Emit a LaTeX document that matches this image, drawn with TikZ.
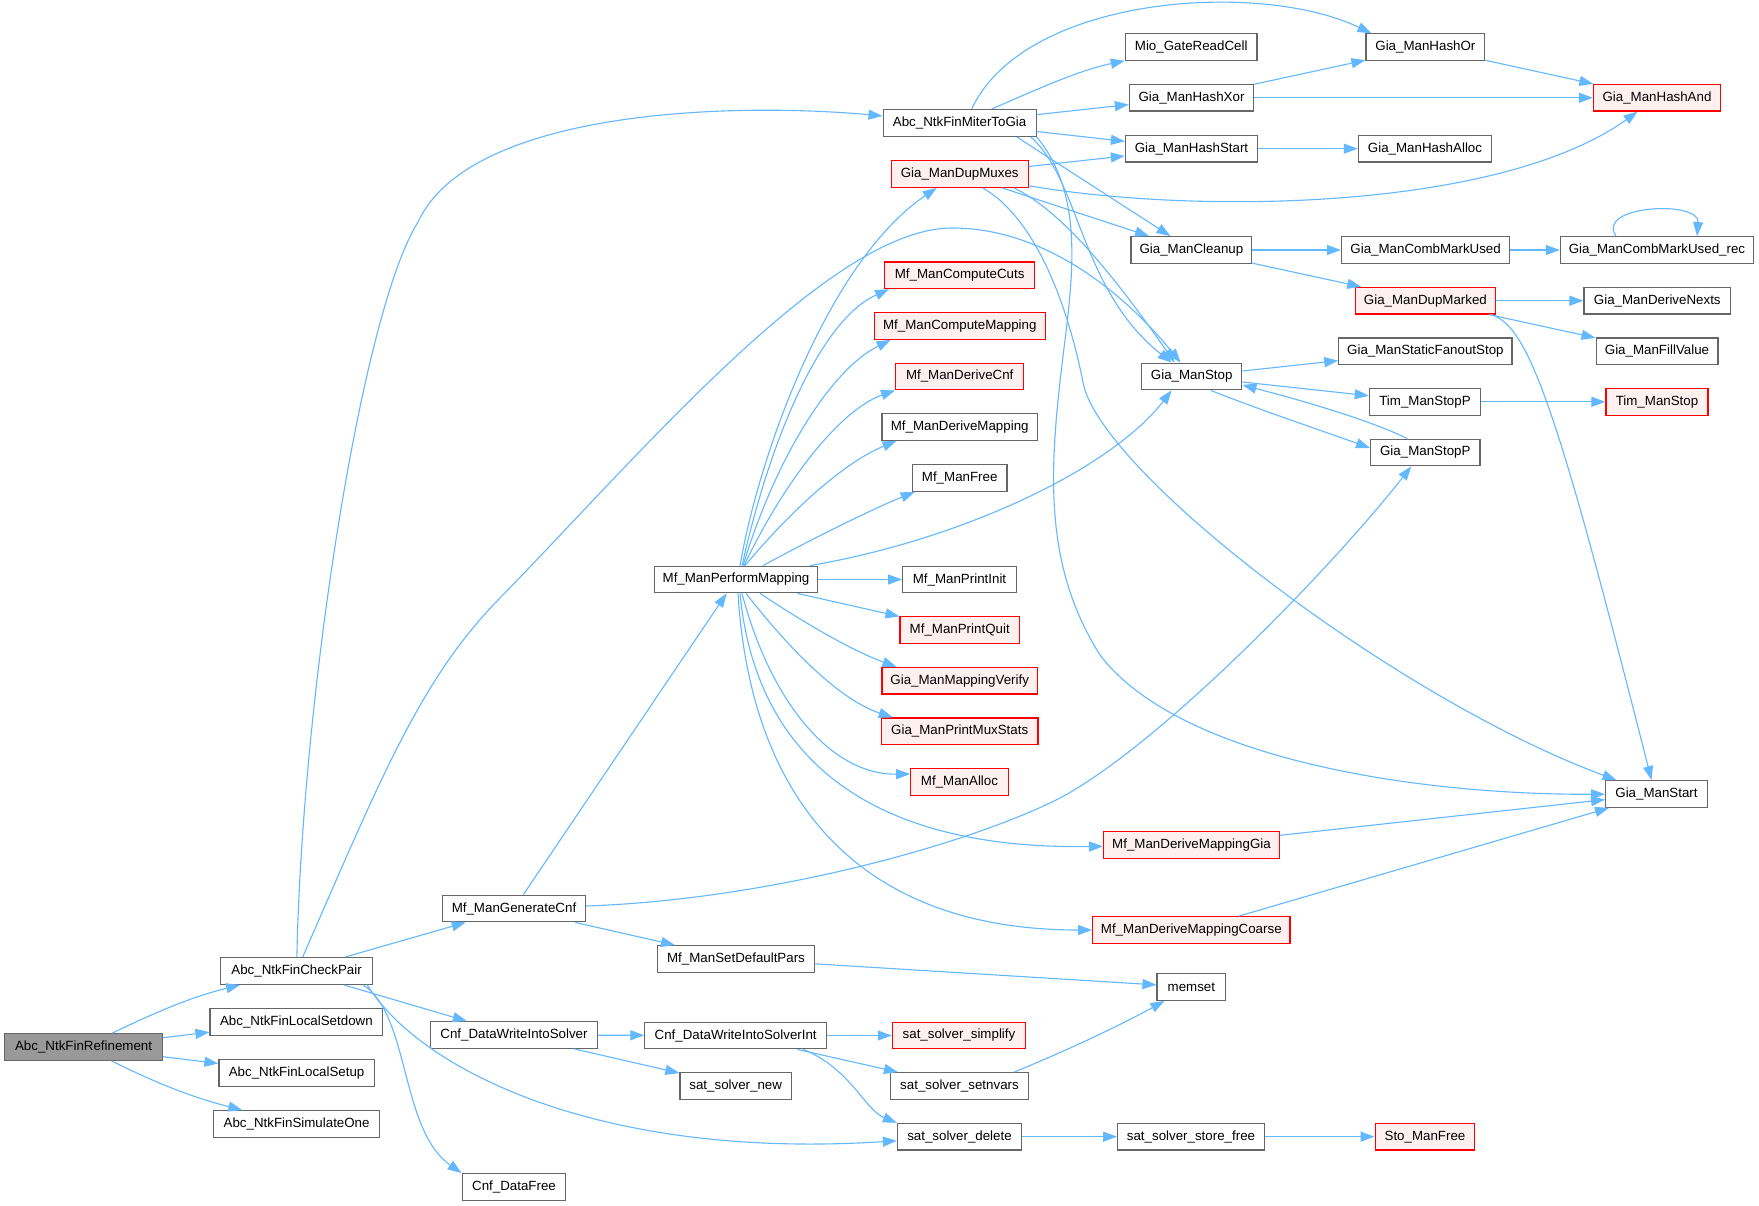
\documentclass[tikz,border=0pt]{standalone}
\usepackage{fontspec}
\setmainfont{Liberation Sans}
\usetikzlibrary{arrows.meta}
\definecolor{edgec}{HTML}{63B8FF}
\definecolor{nborder}{HTML}{666666}
\definecolor{rfill}{HTML}{FFF0F0}
\definecolor{rootfill}{HTML}{999999}
\begin{document}
\begin{tikzpicture}[x=1pt,y=-1pt,
  font=\fontsize{13.33}{16}\selectfont,
  fn/.style={draw=nborder, fill=white, line width=1.2pt, minimum height=26.6pt, inner sep=0pt},
  fnred/.style={fn, draw=red, fill=rfill},
  fnroot/.style={fn, fill=rootfill},
  cedge/.style={draw=edgec, line width=1.1pt, -{Triangle[length=14pt,width=10pt]}}]
\fill[white] (0,0) rectangle (1759,1206);
\useasboundingbox (0,0) rectangle (1759,1206);
% column 0/1
\node[fnroot, minimum width=158pt] (ref) at (83.6,1047) {Abc\_NtkFinRefinement};
\node[fn, minimum width=152pt] (cp) at (296.6,971) {Abc\_NtkFinCheckPair};
\node[fn, minimum width=172.7pt] (lsd) at (296.4,1022) {Abc\_NtkFinLocalSetdown};
\node[fn, minimum width=155.4pt] (lsu) at (296.6,1073) {Abc\_NtkFinLocalSetup};
\node[fn, minimum width=166pt] (sim) at (296.6,1124) {Abc\_NtkFinSimulateOne};
% column 2
\node[fn, minimum width=142.4pt] (gcnf) at (514,908.5) {Mf\_ManGenerateCnf};
\node[fn, minimum width=166.5pt] (dwis) at (514,1035) {Cnf\_DataWriteIntoSolver};
\node[fn, minimum width=103.6pt] (dfree) at (514,1187) {Cnf\_DataFree};
% column 3
\node[fn, minimum width=163.7pt] (pm) at (736,579.5) {Mf\_ManPerformMapping};
\node[fn, minimum width=157pt] (sdp) at (736,959) {Mf\_ManSetDefaultPars};
\node[fn, minimum width=181.7pt] (dwisi) at (735.7,1035.5) {Cnf\_DataWriteIntoSolverInt};
\node[fn, minimum width=111.5pt] (ssnew) at (735.7,1086) {sat\_solver\_new};
% column 4
\node[fn, minimum width=153pt] (miter) at (959.6,123) {Abc\_NtkFinMiterToGia};
\node[fnred, minimum width=137pt] (dupmux) at (959.7,174) {Gia\_ManDupMuxes};
\node[fnred, minimum width=150pt] (ccuts) at (959.7,275.3) {Mf\_ManComputeCuts};
\node[fnred, minimum width=171pt] (cmap) at (959.8,326) {Mf\_ManComputeMapping};
\node[fnred, minimum width=128pt] (dcnf) at (959.7,376.4) {Mf\_ManDeriveCnf};
\node[fn, minimum width=155.3pt] (dmap) at (959.7,427) {Mf\_ManDeriveMapping};
\node[fn, minimum width=94.7pt] (mfree) at (959.7,478) {Mf\_ManFree};
\node[fn, minimum width=113.7pt] (pinit) at (959.5,579.5) {Mf\_ManPrintInit};
\node[fnred, minimum width=119.3pt] (pquit) at (959.7,630) {Mf\_ManPrintQuit};
\node[fnred, minimum width=155.3pt] (mverify) at (959.7,680.7) {Gia\_ManMappingVerify};
\node[fnred, minimum width=156.7pt] (pmux) at (959.7,731.3) {Gia\_ManPrintMuxStats};
\node[fnred, minimum width=97.6pt] (malloc) at (959.5,782) {Mf\_ManAlloc};
\node[fnred, minimum width=133.3pt] (simplify) at (959,1035.5) {sat\_solver\_simplify};
\node[fn, minimum width=138.2pt] (setnvars) at (959.5,1086) {sat\_solver\_setnvars};
\node[fn, minimum width=124.1pt] (sdel) at (959.5,1136.7) {sat\_solver\_delete};
% column 5
\node[fn, minimum width=131.6pt] (mio) at (1191.2,47.2) {Mio\_GateReadCell};
\node[fn, minimum width=124.1pt] (hxor) at (1191.5,97.8) {Gia\_ManHashXor};
\node[fn, minimum width=132.1pt] (hstart) at (1191.5,148.7) {Gia\_ManHashStart};
\node[fn, minimum width=120.7pt] (cleanup) at (1191.4,250) {Gia\_ManCleanup};
\node[fn, minimum width=100.3pt] (gstop) at (1191.7,376.5) {Gia\_ManStop};
\node[fnred, minimum width=175.6pt] (dmgia) at (1191.5,845) {Mf\_ManDeriveMappingGia};
\node[fnred, minimum width=197.3pt] (dmcoarse) at (1191.3,930) {Mf\_ManDeriveMappingCoarse};
\node[fn, minimum width=68.7pt] (memset) at (1191.4,987) {memset};
\node[fn, minimum width=146.7pt] (sstore) at (1191,1136.7) {sat\_solver\_store\_free};
% column 6
\node[fn, minimum width=118.8pt] (hor) at (1425.4,47.2) {Gia\_ManHashOr};
\node[fn, minimum width=133.3pt] (halloc) at (1425,148.7) {Gia\_ManHashAlloc};
\node[fn, minimum width=168.1pt] (cmu) at (1425.6,250) {Gia\_ManCombMarkUsed};
\node[fnred, minimum width=139.7pt] (dmarked) at (1425.4,300.7) {Gia\_ManDupMarked};
\node[fn, minimum width=173.3pt] (sfs) at (1425.4,351.2) {Gia\_ManStaticFanoutStop};
\node[fn, minimum width=111.3pt] (tstopp) at (1425,401.8) {Tim\_ManStopP};
\node[fn, minimum width=109.4pt] (gstopp) at (1425.3,452.5) {Gia\_ManStopP};
\node[fnred, minimum width=99.7pt] (stofree) at (1425,1136.7) {Sto\_ManFree};
% column 7
\node[fnred, minimum width=127pt] (hand) at (1657,97.8) {Gia\_ManHashAnd};
\node[fn, minimum width=193pt] (cmurec) at (1657,250) {Gia\_ManCombMarkUsed\_rec};
\node[fn, minimum width=146.6pt] (dnexts) at (1657.3,300.7) {Gia\_ManDeriveNexts};
\node[fn, minimum width=121.8pt] (fillv) at (1657,351.2) {Gia\_ManFillValue};
\node[fnred, minimum width=102pt] (tstop) at (1657,401.8) {Tim\_ManStop};
\node[fn, minimum width=101.7pt] (gstart) at (1656.5,794) {Gia\_ManStart};

% ---- edges ----
\draw[cedge] (ref) .. controls (160,1010) and (195,996) .. (cp);
\draw[cedge] (ref) -- (lsd);
\draw[cedge] (ref) -- (lsu);
\draw[cedge] (ref) .. controls (160,1085) and (195,1098) .. (sim);

\draw[cedge] (cp) .. controls (302,700) and (361,313) .. (418,222) .. controls (470,110) and (730,102) .. (miter);
\draw[cedge] (cp) .. controls (380,780) and (420,680) .. (498,600) .. controls (640,455) and (830,228) .. (952,228) .. controls (1050,228) and (1130,300) .. (gstop);
\draw[cedge] (cp) -- (gcnf);
\draw[cedge] (cp) -- (dwis);
\draw[cedge] ([xshift=-6pt]cp.south east) .. controls (420,1070) and (600,1160) .. (sdel);
\draw[cedge] ([xshift=-10pt]cp.south east) .. controls (410,1015) and (400,1130) .. (dfree.north west);

\draw[cedge] ([xshift=12pt]miter.north) .. controls (1025,-5) and (1260,-20) .. ([xshift=6pt]hor.north west);
\draw[cedge] (miter) .. controls (1040,88) and (1080,70) .. (mio);
\draw[cedge] (miter) -- (hxor);
\draw[cedge] (miter) -- (hstart);
\draw[cedge] ([xshift=-20pt]miter.south east) -- ([xshift=-21pt]cleanup.north);
\draw[cedge] ([xshift=-6pt]miter.south east) .. controls (1080,180) and (1080,290) .. ([xshift=-20pt]gstop.north);
\draw[cedge] (miter.south east) .. controls (1080,190) and (1075,260) .. (1065,340) .. controls (1050,460) and (1040,560) .. (1100,655) .. controls (1180,760) and (1420,795) .. (gstart);

\draw[cedge] (hxor) -- (hor);
\draw[cedge] (hxor) -- (hand);
\draw[cedge] (hor) -- (hand);
\draw[cedge] (hstart) -- (halloc);

\draw[cedge] (dupmux) -- (hstart);
\draw[cedge] (dupmux) .. controls (1200,215) and (1500,210) .. (hand);
\draw[cedge] (dupmux) -- (cleanup);
\draw[cedge] ([xshift=-15pt]dupmux.south east) .. controls (1060,210) and (1110,270) .. ([xshift=-17pt]gstop.north);
\draw[cedge] ([xshift=23pt]dupmux.south) .. controls (1030,215) and (1065,290) .. (1084,387) .. controls (1110,480) and (1400,700) .. ([xshift=-40pt]gstart.north);

\draw[cedge] (cleanup) -- (cmu);
\draw[cedge] (cleanup) -- (dmarked);
\draw[cedge] (cmu) -- (cmurec);
\draw[cedge] ([xshift=-41pt]cmurec.north) .. controls (1595,205) and (1700,200) .. ([xshift=40pt]cmurec.north);

\draw[cedge] (dmarked) -- (dnexts);
\draw[cedge] (dmarked) -- (fillv);
\draw[cedge] ([xshift=-5pt]dmarked.south east) .. controls (1530,325) and (1560,420) .. ([xshift=-5pt]gstart.north);

\draw[cedge] (gstop) -- (sfs);
\draw[cedge] (gstop) -- (tstopp);
\draw[cedge] ([xshift=19pt]gstop.south) .. controls (1260,410) and (1320,430) .. ([yshift=4.5pt]gstopp.west);
\draw[cedge] ([xshift=-18pt]gstopp.north) .. controls (1370,420) and (1300,400) .. ([yshift=-8.5pt]gstop.east);
\draw[cedge] (tstopp) -- (tstop);

\draw[cedge] ([xshift=4pt]pm.north) .. controls (760,450) and (830,260) .. ([xshift=-23pt]dupmux.south);
\draw[cedge] ([xshift=6pt]pm.north) .. controls (770,440) and (820,320) .. ([xshift=5pt]ccuts.south west);
\draw[cedge] ([xshift=7pt]pm.north) .. controls (775,460) and (830,370) .. ([xshift=17pt]cmap.south west);
\draw[cedge] ([xshift=8pt]pm.north) .. controls (785,480) and (840,410) .. (dcnf.south west);
\draw[cedge] ([xshift=9pt]pm.north) .. controls (800,500) and (850,460) .. ([xshift=15pt]dmap.south west);
\draw[cedge] ([xshift=27pt]pm.north) .. controls (810,540) and (870,510) .. ([xshift=3pt]mfree.south west);
\draw[cedge] ([xshift=74pt]pm.north) .. controls (960,540) and (1110,470) .. ([xshift=-20pt]gstop.south);
\draw[cedge] (pm) -- (pinit);
\draw[cedge] (pm) -- (pquit);
\draw[cedge] ([xshift=24pt]pm.south) .. controls (800,620) and (850,650) .. ([xshift=15pt]mverify.north west);
\draw[cedge] ([xshift=10pt]pm.south) .. controls (790,650) and (840,700) .. ([xshift=12pt]pmux.north west);
\draw[cedge] ([xshift=6pt]pm.south) .. controls (770,700) and (830,775) .. ([yshift=8pt]malloc.west);
\draw[cedge] ([xshift=4pt]pm.south) .. controls (755,750) and (860,850) .. (dmgia);
\draw[cedge] ([xshift=2pt]pm.south) .. controls (750,790) and (850,930) .. (dmcoarse);

\draw[cedge] (gcnf) -- (pm);
\draw[cedge] (gcnf) .. controls (760,900) and (950,850) .. (1050,803) .. controls (1150,756) and (1330,570) .. ([xshift=-14pt]gstopp.south);
\draw[cedge] (gcnf) -- (sdp);
\draw[cedge] (sdp) -- (memset);

\draw[cedge] (dwis) -- (dwisi);
\draw[cedge] (dwis) -- (ssnew);
\draw[cedge] (dwisi) -- (simplify);
\draw[cedge] (dwisi) -- (setnvars);
\draw[cedge] ([xshift=-24pt]dwisi.south east) .. controls (850,1068) and (865,1110) .. (sdel.north west);
\draw[cedge] ([xshift=-15pt]setnvars.north east) .. controls (1080,1045) and (1130,1020) .. ([xshift=8pt]memset.south west);
\draw[cedge] (sdel) -- (sstore);
\draw[cedge] (sstore) -- (stofree);

\draw[cedge] (dmgia) -- (gstart);
\draw[cedge] (dmcoarse) -- (gstart);
\end{tikzpicture}
\end{document}
